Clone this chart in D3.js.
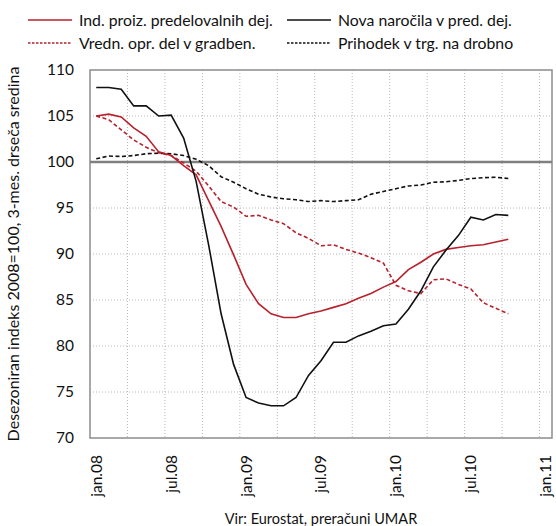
<!DOCTYPE html>
<html>
<head>
<meta charset="utf-8">
<script src="https://cdn.jsdelivr.net/npm/d3@7"></script>
<style>
  body { margin: 0; background: #fff; }
  text { font-family: "Lato", "Liberation Sans", sans-serif; fill: #111; }
</style>
</head>
<body>
<div id="chart"></div>
<script>
var months = ["jan.08","feb.08","mar.08","apr.08","maj.08","jun.08","jul.08","avg.08","sep.08","okt.08","nov.08","dec.08",
              "jan.09","feb.09","mar.09","apr.09","maj.09","jun.09","jul.09","avg.09","sep.09","okt.09","nov.09","dec.09",
              "jan.10","feb.10","mar.10","apr.10","maj.10","jun.10","jul.10","avg.10","sep.10","okt.10","nov.10","dec.10",
              "jan.11"];
var tickLabels = ["jan.08","jul.08","jan.09","jul.09","jan.10","jul.10","jan.11"];
var yTicks = [70, 75, 80, 85, 90, 95, 100, 105, 110];

// Ind. proiz. predelovalnih dej.
var indProiz = [105.0,105.2,104.9,103.7,102.8,101.1,100.7,99.6,98.6,95.8,93.0,89.9,
                86.7,84.6,83.5,83.1,83.1,83.5,83.8,84.2,84.6,85.2,85.7,86.4,
                87.0,88.3,89.1,90.0,90.5,90.7,90.9,91.0,91.3,91.6];
// Nova narocila v pred. dej.
var novaNarocila = [108.1,108.1,107.9,106.1,106.1,105.0,105.1,102.6,97.9,91.0,83.5,78.0,
                    74.4,73.8,73.5,73.5,74.4,76.8,78.4,80.4,80.4,81.1,81.6,82.2,
                    82.4,84.0,86.0,88.6,90.4,92.0,94.0,93.7,94.3,94.2];
// Vredn. opr. del v gradben.
var vrednOpr = [105.0,104.6,103.5,102.4,101.6,101.0,100.7,99.9,99.0,97.4,95.7,95.1,
                94.1,94.2,93.7,93.3,92.3,91.7,90.9,91.0,90.5,90.1,89.6,89.0,
                86.6,86.0,85.7,87.2,87.3,86.7,86.2,84.7,84.1,83.5];
// Prihodek v trg. na drobno
var prihodek = [100.35,100.65,100.6,100.7,100.9,100.95,100.9,100.7,100.3,99.6,98.4,97.8,
                97.1,96.5,96.2,96.0,95.9,95.7,95.8,95.7,95.8,95.9,96.5,96.8,
                97.1,97.4,97.5,97.8,97.85,98.0,98.2,98.3,98.35,98.2];

var seriesNames = ["Ind. proiz. predelovalnih dej.", "Nova naročila v pred. dej.",
                   "Vredn. opr. del v gradben.", "Prihodek v trg. na drobno"];

var width = 556, height = 526;
var pLeft = 90, pRight = 552, pTop = 70, pBottom = 438;
var red = "#b8202c";

var svg = d3.select("#chart").append("svg")
    .attr("width", width)
    .attr("height", height);

var x = d3.scaleBand()
    .domain(months)
    .range([pLeft, pRight])
    .padding(0);
var y = d3.scaleLinear()
    .domain([70, 110])
    .range([pBottom, pTop]);
var bw = x.bandwidth();

// grid
var grid = svg.append("g").attr("class", "grid");
grid.selectAll("line.h")
    .data(yTicks.filter(function(d) { return d != 70 && d != 110 && d != 100; }))
    .enter().append("line")
    .attr("x1", pLeft).attr("x2", pRight)
    .attr("y1", function(d) { return y(d); })
    .attr("y2", function(d) { return y(d); })
    .attr("stroke", "#b8b8b8")
    .attr("stroke-dasharray", "1,2");
grid.selectAll("line.v")
    .data(months.filter(function(d, i) { return i > 0 && i % 3 == 0; }))
    .enter().append("line")
    .attr("x1", function(d) { return x(d); })
    .attr("x2", function(d) { return x(d); })
    .attr("y1", pTop).attr("y2", pBottom)
    .attr("stroke", "#b8b8b8")
    .attr("stroke-dasharray", "1,2");

// frame + 100 line
svg.append("rect")
    .attr("x", pLeft).attr("y", pTop)
    .attr("width", pRight - pLeft).attr("height", pBottom - pTop)
    .attr("fill", "none")
    .attr("stroke", "#8c8c8c")
    .attr("stroke-width", 1.5);
svg.append("line")
    .attr("x1", pLeft).attr("x2", pRight)
    .attr("y1", y(100)).attr("y2", y(100))
    .attr("stroke", "#808080")
    .attr("stroke-width", 2.5);

// y axis labels
svg.append("g").selectAll("text")
    .data(yTicks)
    .enter().append("text")
    .attr("x", pLeft - 16)
    .attr("y", function(d) { return y(d); })
    .attr("dy", "0.35em")
    .attr("text-anchor", "end")
    .style("font-size", "15.5px")
    .text(function(d) { return d; });

svg.append("text")
    .attr("transform", "translate(19," + ((pTop + pBottom) / 2) + ") rotate(-90)")
    .attr("text-anchor", "middle")
    .style("font-size", "16px")
    .text("Desezoniran indeks 2008=100, 3-mes. drseča sredina");

// x axis labels
svg.append("g").selectAll("text")
    .data(tickLabels)
    .enter().append("text")
    .attr("transform", function(d) {
        return "translate(" + (x(d) + bw / 2) + "," + 455 + ") rotate(-90)";
    })
    .attr("dy", "0.35em")
    .attr("text-anchor", "end")
    .style("font-size", "15.5px")
    .text(function(d) { return d; });

svg.append("text")
    .attr("x", (pLeft + pRight) / 2)
    .attr("y", 524)
    .attr("text-anchor", "middle")
    .style("font-size", "14.5px")
    .text("Vir: Eurostat, preračuni UMAR");

// lines
var line = d3.line()
    .x(function(d, i) { return x(months[i]) + bw / 2; })
    .y(function(d) { return y(d); });

var series = [
    { values: prihodek, color: "#111", dash: "4,2.5" },
    { values: vrednOpr, color: red, dash: "4,2.5" },
    { values: indProiz, color: red, dash: null },
    { values: novaNarocila, color: "#111", dash: null }
];
svg.append("g").selectAll("path")
    .data(series)
    .enter().append("path")
    .attr("d", function(d) { return line(d.values); })
    .attr("fill", "none")
    .attr("stroke", function(d) { return d.color; })
    .attr("stroke-width", 1.6)
    .attr("stroke-dasharray", function(d) { return d.dash; });

// legend
var legendItems = [
    { name: seriesNames[0], color: red, dash: null, lx: 28, ly: 20 },
    { name: seriesNames[1], color: "#111", dash: null, lx: 287, ly: 20 },
    { name: seriesNames[2], color: red, dash: "2.5,1.5", lx: 28, ly: 43 },
    { name: seriesNames[3], color: "#111", dash: "2.5,1.5", lx: 287, ly: 43 }
];
var lg = svg.append("g").selectAll("g")
    .data(legendItems)
    .enter().append("g")
    .attr("transform", function(d) { return "translate(" + d.lx + "," + d.ly + ")"; });
lg.append("line")
    .attr("x1", 0).attr("x2", 44)
    .attr("stroke", function(d) { return d.color; })
    .attr("stroke-width", 1.4)
    .attr("stroke-dasharray", function(d) { return d.dash; });
lg.append("text")
    .attr("x", 51)
    .attr("dy", "0.35em")
    .style("font-size", "15.8px")
    .text(function(d) { return d.name; });
</script>
</body>
</html>
